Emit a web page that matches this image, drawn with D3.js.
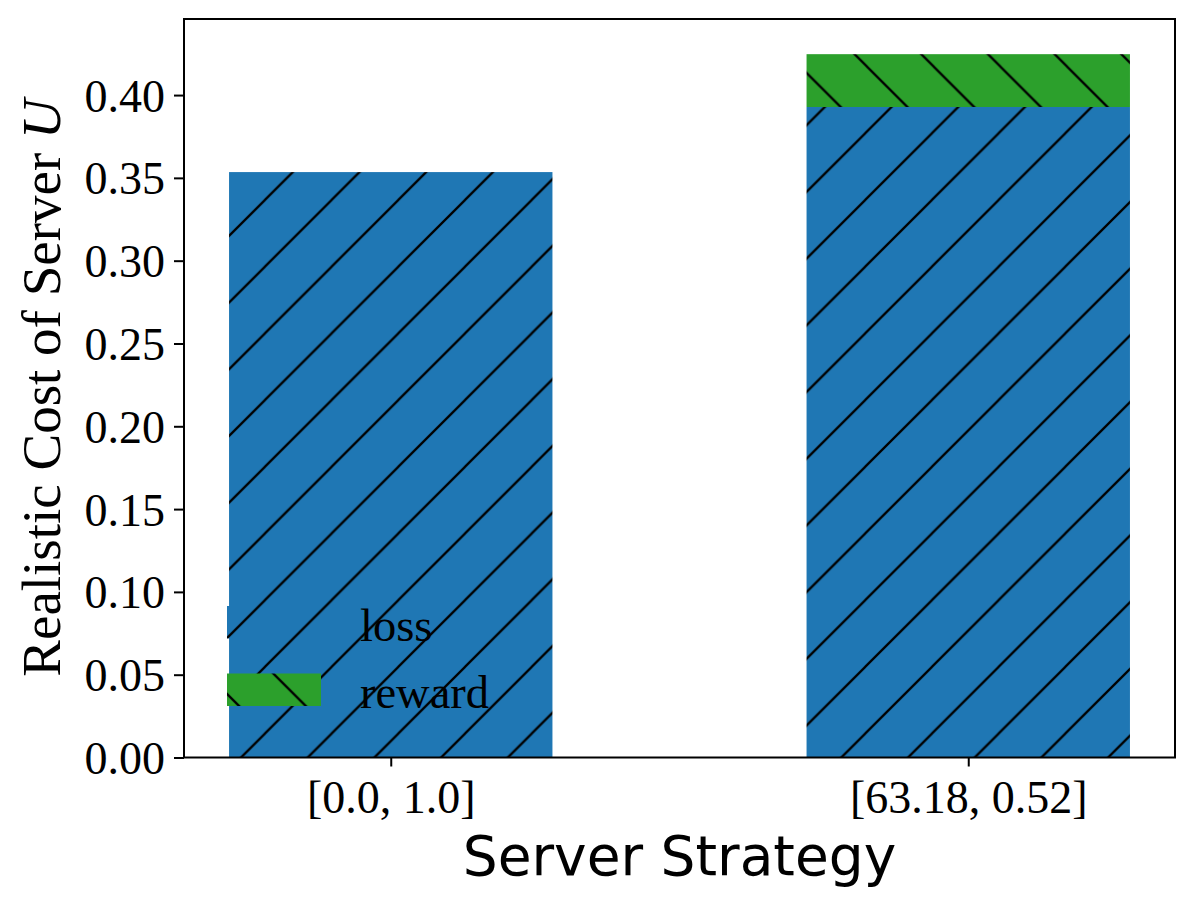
<!DOCTYPE html>
<html><head><meta charset="utf-8">
<script src="https://cdn.jsdelivr.net/npm/d3@7"></script>
<style>body{margin:0;background:#fff}svg{display:block}</style>
</head><body>
<script>
const categories = ["[0.0, 1.0]", "[63.18, 0.52]"];
const lossValues = [0.3535, 0.3928];
const rewardValues = [0.0, 0.0319];
const yTicks = [0.00, 0.05, 0.10, 0.15, 0.20, 0.25, 0.30, 0.35, 0.40];
const legendLabels = ["loss", "reward"];

const W = 1196, H = 906;
const L = 184, R = 1175, T = 19, B = 757.5;
const serif = "'Liberation Serif','Times New Roman',serif";
const sans = "'DejaVu Sans',sans-serif";
const blue = "#1f77b4", green = "#2ca02c";
const P = 66.7;

const svg = d3.select("body").append("svg").attr("width", W).attr("height", H);
const defs = svg.append("defs");
function hatch(id, color, forward, ox) {
  const p = defs.append("pattern").attr("id", id).attr("patternUnits", "userSpaceOnUse")
    .attr("width", P).attr("height", P).attr("x", ox).attr("y", 0);
  p.append("rect").attr("width", P).attr("height", P).attr("fill", color);
  const d = forward
    ? `M${-P/2},${P/2} L${P/2},${-P/2} M0,${P} L${P},0 M${P/2},${P*1.5} L${P*1.5},${P/2}`
    : `M${-P/2},${P/2} L${P/2},${P*1.5} M0,0 L${P},${P} M${P/2},${-P/2} L${P*1.5},${P/2}`;
  p.append("path").attr("d", d).attr("stroke", "#000").attr("stroke-width", 2.3).attr("fill", "none");
}
hatch("hLoss", blue, true, -2);
hatch("hReward", green, false, 0);

const maxTotal = d3.max(lossValues.map((v, i) => v + rewardValues[i]));
const x = d3.scaleLinear().domain([-0.358, 1.358]).range([L, R]);
const y = d3.scaleLinear().domain([0, maxTotal * 1.05]).range([B, T]);
const bw = 0.56;

categories.forEach((c, i) => {
  svg.append("rect").attr("x", x(i - bw/2)).attr("width", x(i + bw/2) - x(i - bw/2))
    .attr("y", y(lossValues[i])).attr("height", y(0) - y(lossValues[i]))
    .attr("fill", "url(#hLoss)");
  if (rewardValues[i] > 0) {
    const top = lossValues[i] + rewardValues[i];
    svg.append("rect").attr("x", x(i - bw/2)).attr("width", x(i + bw/2) - x(i - bw/2))
      .attr("y", y(top)).attr("height", y(lossValues[i]) - y(top))
      .attr("fill", "url(#hReward)");
  }
});

// legend
const legFills = ["url(#hLoss)", "url(#hReward)"];
const legY = [606, 673.5];
legendLabels.forEach((lab, i) => {
  svg.append("rect").attr("x", 227).attr("y", legY[i]).attr("width", 94).attr("height", 32.5)
    .attr("fill", legFills[i]);
  svg.append("text").attr("x", 360).attr("y", legY[i] + 34.5).attr("font-family", serif)
    .attr("font-size", 46.5).attr("fill", "#000").text(lab);
});

// axes
const yAxis = d3.axisLeft(y).tickValues(yTicks).tickFormat(d3.format(".2f")).tickSize(10).tickPadding(9);
const gy = svg.append("g").attr("transform", `translate(${L},0)`).call(yAxis);
gy.select(".domain").remove();
gy.selectAll("line").attr("stroke-width", 2);
gy.selectAll("text").attr("font-family", serif).attr("font-size", 46).attr("fill", "#000")
  .attr("dy", null).attr("dominant-baseline", null).attr("y", 16);

const xAxis = d3.axisBottom(x).tickValues([0, 1]).tickFormat(i => categories[i]).tickSize(9).tickPadding(8);
const gx = svg.append("g").attr("transform", `translate(0,${B})`).call(xAxis);
gx.select(".domain").remove();
gx.selectAll("line").attr("stroke-width", 2);
gx.selectAll("text").attr("font-family", serif).attr("font-size", 46).attr("fill", "#000")
  .attr("dy", null).attr("y", 55);

svg.append("rect").attr("x", L).attr("y", T).attr("width", R - L).attr("height", B - T)
  .attr("fill", "none").attr("stroke", "#000").attr("stroke-width", 2);

svg.append("text").attr("x", (L + R) / 2).attr("y", 875).attr("text-anchor", "middle")
  .attr("font-family", sans).attr("font-size", 55).attr("fill", "#000").text("Server Strategy");

const yl = svg.append("text").attr("transform", "translate(60,388) rotate(-90)")
  .attr("text-anchor", "middle").attr("font-family", serif).attr("font-size", 55).attr("fill", "#000");
yl.append("tspan").text("Realistic Cost of Server ");
yl.append("tspan").attr("font-style", "italic").text("U");
</script>
</body></html>
